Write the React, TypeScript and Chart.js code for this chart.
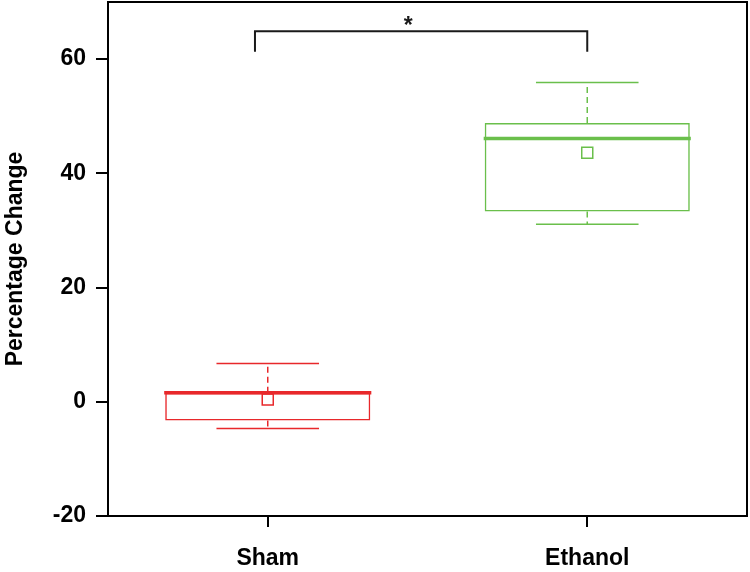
import React, { useEffect, useRef } from "react";
import { Chart, registerables } from "chart.js";

Chart.register(...registerables);

const categories = ["Sham", "Ethanol"];
const q1 = [-3.3, 33.3];
const q3 = [1.6, 48.8];
const medians = [1.6, 46.1];
const whiskerLow = [-4.7, 31.1];
const whiskerHigh = [6.7, 55.9];
const means = [0.4, 43.6];
const yTicks = [-20, 0, 20, 40, 60];
const colors = ["#e8282b", "#6abf4b"];

// significance bracket (category-index units / value units)
const bracketFrom = -0.04;
const bracketTo = 1.0;
const bracketTop = 64.9;
const bracketLeg = 61.3;
const starX = 0.44;
const starY = 65.2;
const starText = "*";

const FONT = { family: "'Liberation Sans', Arial, sans-serif", size: 23, weight: "bold" as const };

const boxPlugin = {
  id: "boxExtras",
  afterDatasetsDraw(chart: any) {
    const ctx = chart.ctx;
    const xs = chart.scales.x;
    const ys = chart.scales.y;
    const meta = chart.getDatasetMeta(0);
    ctx.save();
    meta.data.forEach((bar: any, i: number) => {
      const cx = bar.x;
      const w = bar.width;
      const capHalf = w / 4;
      ctx.strokeStyle = colors[i];
      ctx.lineWidth = 1.5;
      ctx.setLineDash([6, 4]);
      ctx.beginPath();
      ctx.moveTo(cx, ys.getPixelForValue(q3[i]));
      ctx.lineTo(cx, ys.getPixelForValue(whiskerHigh[i]));
      ctx.moveTo(cx, ys.getPixelForValue(q1[i]));
      ctx.lineTo(cx, ys.getPixelForValue(whiskerLow[i]));
      ctx.stroke();
      ctx.setLineDash([]);
      ctx.beginPath();
      const yh = ys.getPixelForValue(whiskerHigh[i]);
      const yl = ys.getPixelForValue(whiskerLow[i]);
      ctx.moveTo(cx - capHalf, yh);
      ctx.lineTo(cx + capHalf, yh);
      ctx.moveTo(cx - capHalf, yl);
      ctx.lineTo(cx + capHalf, yl);
      ctx.stroke();
      ctx.lineWidth = 3.5;
      const ym = ys.getPixelForValue(medians[i]);
      ctx.beginPath();
      ctx.moveTo(cx - w / 2 - 1, ym);
      ctx.lineTo(cx + w / 2 + 1, ym);
      ctx.stroke();
    });
    ctx.strokeStyle = "#1a1a1a";
    ctx.lineWidth = 2;
    const bx1 = xs.getPixelForValue(bracketFrom);
    const bx2 = xs.getPixelForValue(bracketTo);
    const byT = ys.getPixelForValue(bracketTop);
    const byL = ys.getPixelForValue(bracketLeg);
    ctx.beginPath();
    ctx.moveTo(bx1, byL);
    ctx.lineTo(bx1, byT);
    ctx.lineTo(bx2, byT);
    ctx.lineTo(bx2, byL);
    ctx.stroke();
    ctx.fillStyle = "#1a1a1a";
    ctx.font = "bold 23px 'Liberation Sans', Arial, sans-serif";
    ctx.textAlign = "center";
    ctx.textBaseline = "alphabetic";
    ctx.fillText(starText, xs.getPixelForValue(starX), ys.getPixelForValue(starY) + 4);
    const a = chart.chartArea;
    ctx.strokeStyle = "#000";
    ctx.lineWidth = 2;
    ctx.strokeRect(a.left, a.top, a.right - a.left, a.bottom - a.top);
    ctx.restore();
  },
};

export default function App() {
  const ref = useRef<HTMLCanvasElement | null>(null);
  useEffect(() => {
    if (!ref.current) return;
    const chart = new Chart(ref.current, {
      type: "bar",
      data: {
        labels: categories,
        datasets: [
          {
            type: "bar",
            data: categories.map((_, i) => [q1[i], q3[i]]) as any,
            backgroundColor: "rgba(0,0,0,0)",
            borderColor: colors,
            borderWidth: 1.5,
            borderSkipped: false,
            barPercentage: 0.642,
            categoryPercentage: 1,
            order: 2,
          } as any,
          {
            type: "line",
            data: means,
            showLine: false,
            pointStyle: "rect",
            pointRadius: 7.8,
            pointHoverRadius: 7.8,
            pointBorderColor: colors,
            pointBackgroundColor: "rgba(0,0,0,0)",
            pointBorderWidth: 1.5,
            order: 1,
          } as any,
        ],
      },
      options: {
        responsive: false,
        animation: false,
        devicePixelRatio: 1,
        layout: { autoPadding: false, padding: { top: 2, right: 3, left: 0, bottom: 0 } },
        plugins: { legend: { display: false }, tooltip: { enabled: false } },
        scales: {
          x: {
            type: "category",
            offset: true,
            grid: {
              display: true,
              offset: false,
              drawOnChartArea: false,
              drawTicks: true,
              tickLength: 11,
              color: "#000",
              lineWidth: 2,
            },
            border: { display: true, color: "#000", width: 2 },
            ticks: { color: "#000", font: FONT, padding: 18, maxRotation: 0 },
            afterFit: (s: any) => {
              s.height = 56;
              s.paddingLeft = 0;
              s.paddingRight = 0;
            },
          },
          y: {
            type: "linear",
            min: -20,
            max: 70,
            afterBuildTicks: (s: any) => {
              s.ticks = yTicks.map((v) => ({ value: v }));
            },
            grid: {
              drawOnChartArea: false,
              tickLength: 12,
              color: "#000",
              lineWidth: 2,
            },
            border: { display: true, color: "#000", width: 2 },
            ticks: { color: "#000", font: FONT, padding: 10 },
            title: {
              display: true,
              text: "Percentage Change",
              color: "#000",
              font: FONT,
              padding: { top: 2, bottom: 0 },
            },
            afterFit: (s: any) => {
              s.width = 108;
              s.paddingTop = 0;
              s.paddingBottom = 0;
            },
          },
        },
      },
      plugins: [boxPlugin],
    });
    return () => chart.destroy();
  }, []);
  return (
    <div style={{ position: "absolute", left: 0, top: 0, width: 750, height: 572, background: "#fff" }}>
      <canvas ref={ref} width={750} height={572} />
    </div>
  );
}
